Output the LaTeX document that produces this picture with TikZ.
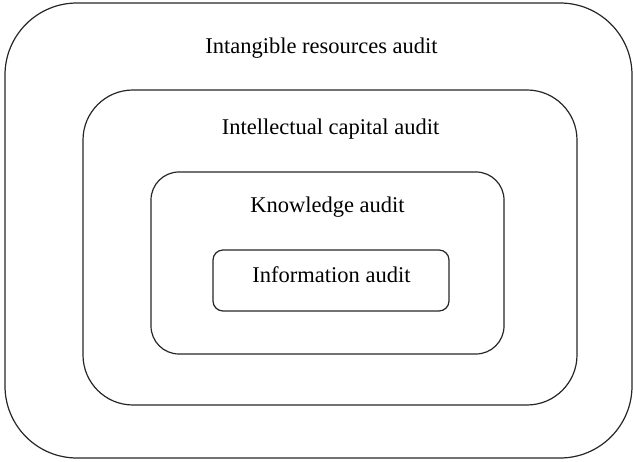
\documentclass[tikz,border=0pt]{standalone}
\usepackage{fontspec}
\setmainfont{Liberation Serif}
\begin{document}
\begin{tikzpicture}[x=1pt,y=-1pt,
  auditbox/.style={draw=black!85, line width=1.2pt, inner sep=0pt, outer sep=0pt},
  lbl/.style={anchor=base, inner sep=0pt, font=\fontsize{22.5}{26}\selectfont}]
\useasboundingbox (0,0) rectangle (633,462);
\node[auditbox, rounded corners=72pt, minimum width=627pt, minimum height=455pt] (outer) at (318.5,230.5) {};
\node[auditbox, rounded corners=50pt, minimum width=494pt, minimum height=315pt] (second) at (330,247.5) {};
\node[auditbox, rounded corners=28pt, minimum width=353pt, minimum height=182pt] (third) at (327.5,263) {};
\node[auditbox, rounded corners=10pt, minimum width=236pt, minimum height=61pt] (inner) at (331,280.5) {};
\node[lbl] (t1) at (321.5,54) {Intangible resources audit};
\node[lbl] (t2) at (330.5,135) {Intellectual capital audit};
\node[lbl] (t3) at (327.5,213) {Knowledge audit};
\node[lbl] (t4) at (331.5,283) {Information audit};
\end{tikzpicture}
\end{document}
